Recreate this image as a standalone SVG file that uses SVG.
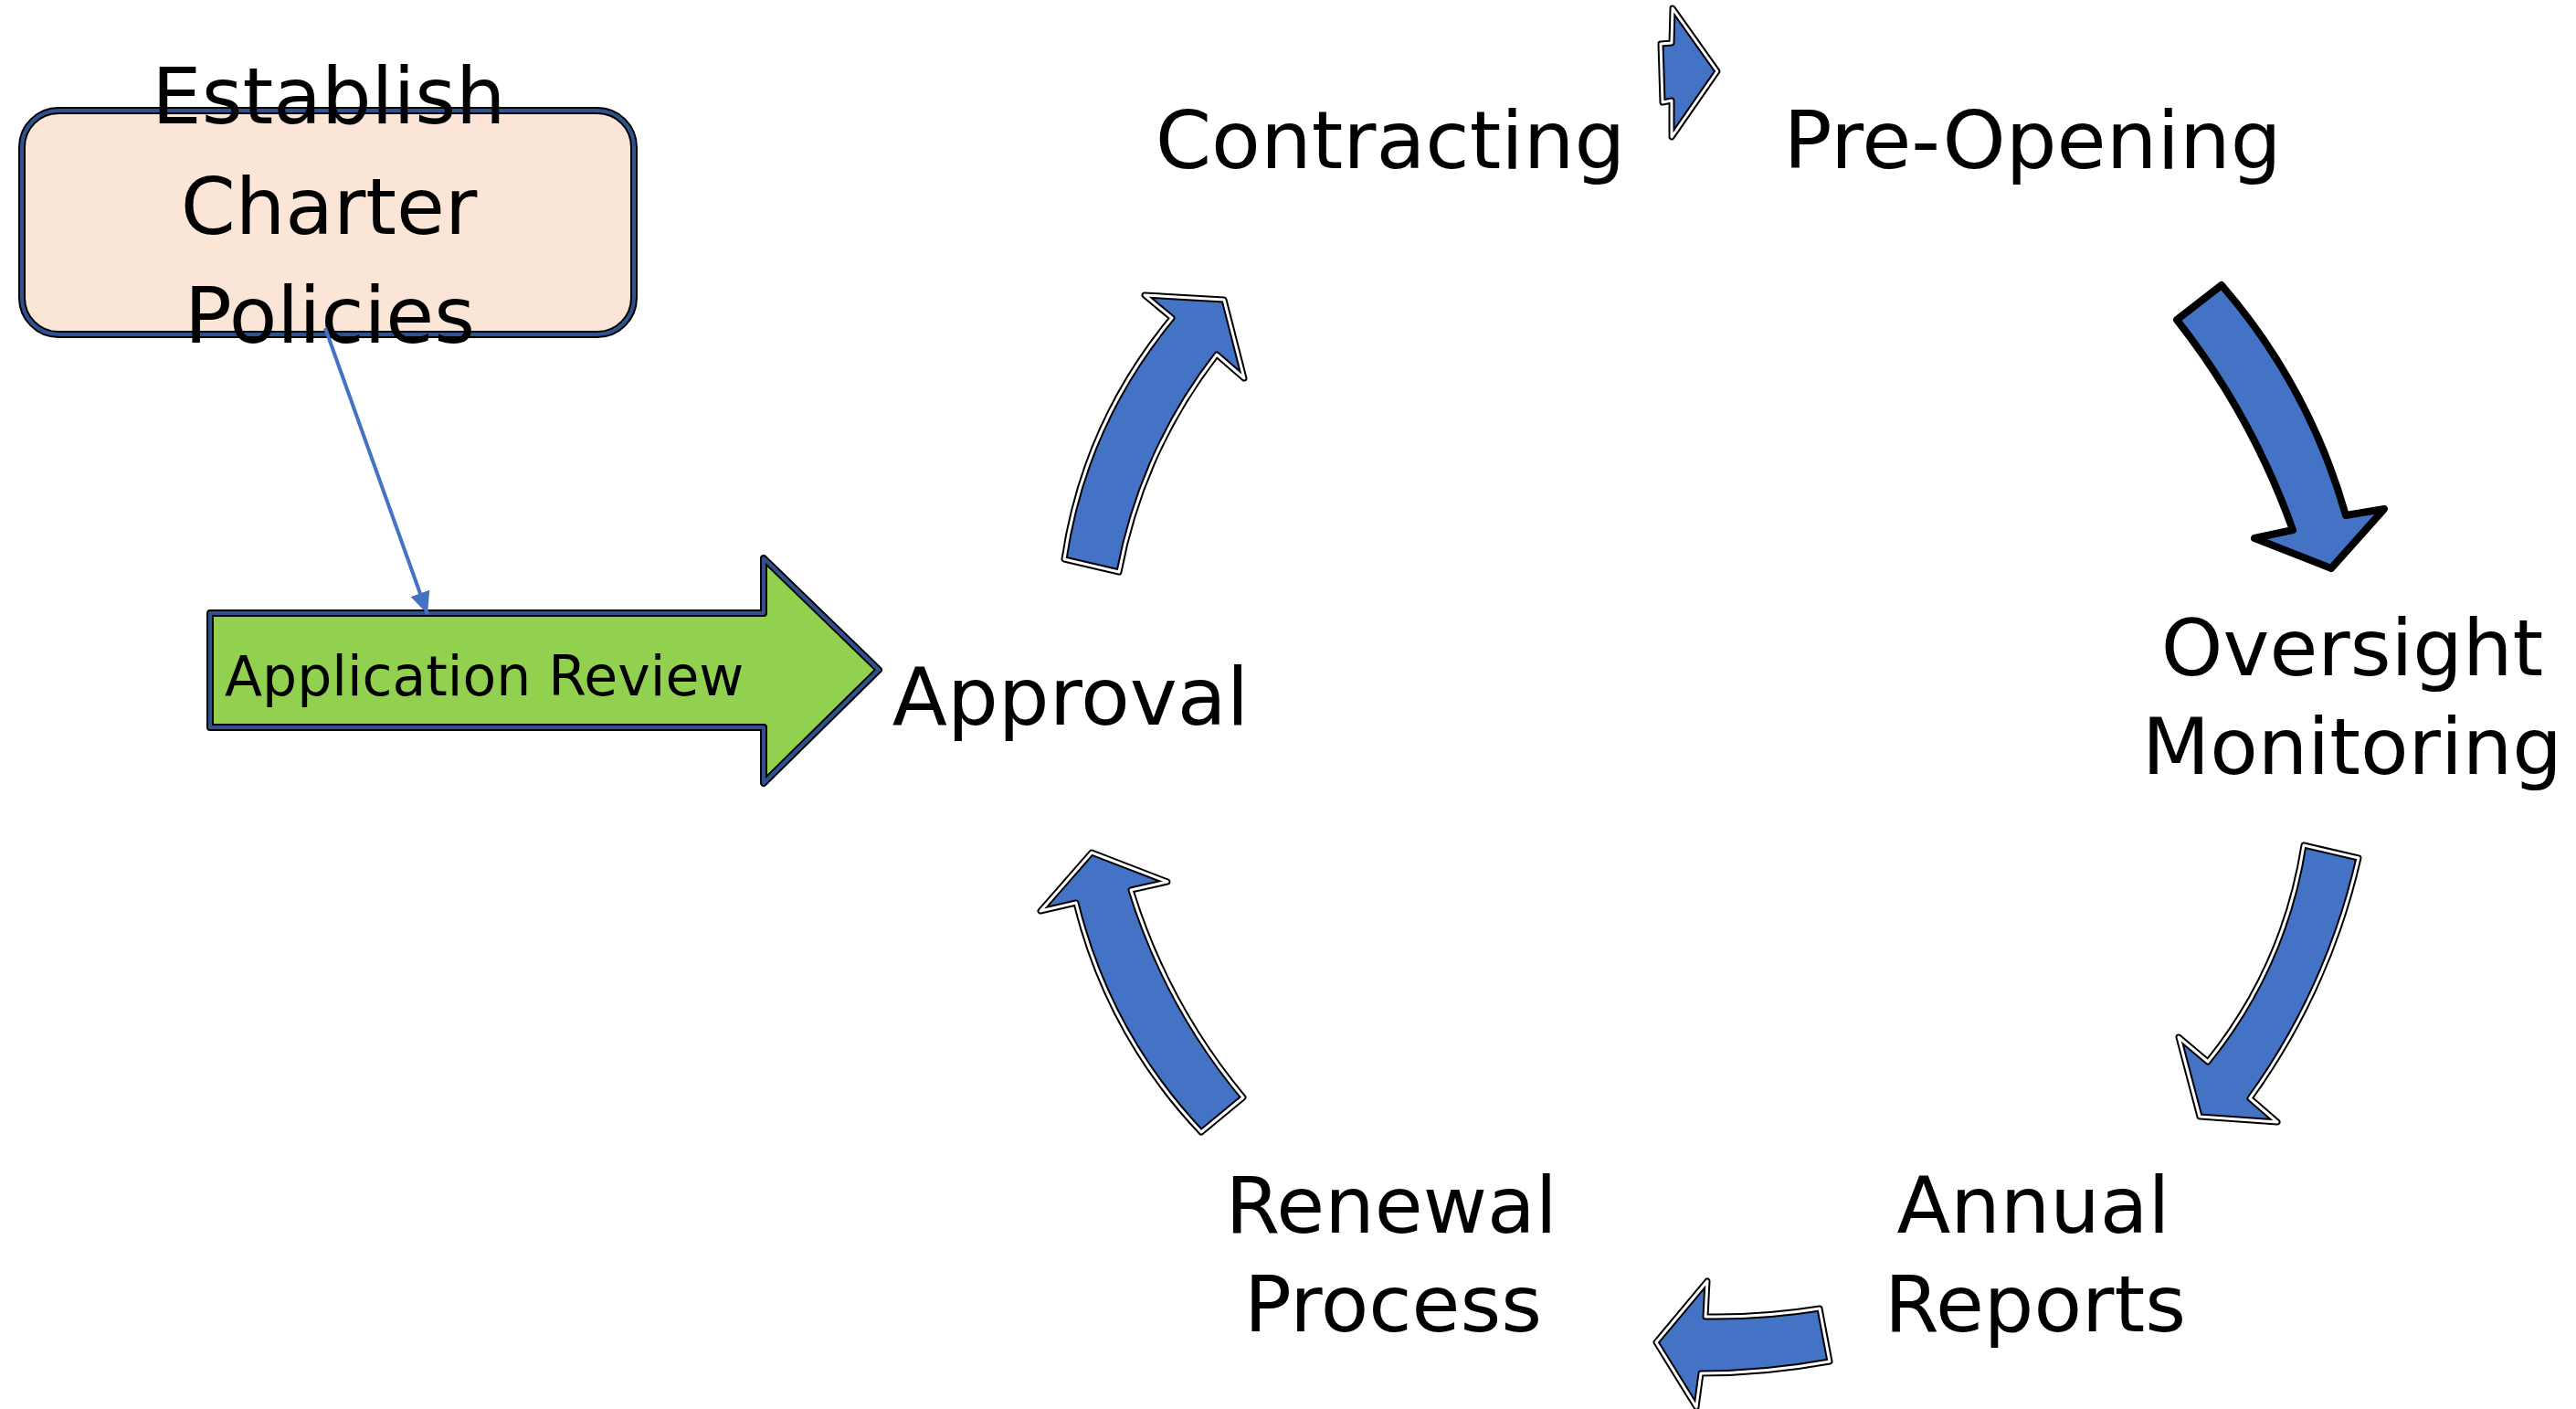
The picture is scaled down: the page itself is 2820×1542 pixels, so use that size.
<svg xmlns="http://www.w3.org/2000/svg" xmlns:xlink="http://www.w3.org/1999/xlink" width="2820" height="1542" viewBox="0 0 2820 1542">
<defs>
<style>
.lbl{font-family:"DejaVu Sans","Liberation Sans",sans-serif;font-size:86px;fill:#000;text-anchor:middle}
.big{font-size:88px}
.small{font-size:60px;text-anchor:start}
.edge-dark{fill:none;stroke:#000;stroke-width:8;stroke-linejoin:round}
.edge-blue{fill:none;stroke:#2F528F;stroke-width:4;stroke-linejoin:round}
.blk-fill{fill:#4472C4;stroke:#000;stroke-width:7;stroke-linejoin:round}
.blk-white{fill:none;stroke:#fff;stroke-width:3;stroke-linejoin:round}
.blk-solid{fill:#4472C4;stroke:#000;stroke-width:8;stroke-linejoin:round}
.thin{fill:none;stroke:#4472C4;stroke-width:4}
</style>
<marker id="tri" markerWidth="26" markerHeight="22" refX="24" refY="11" orient="auto" markerUnits="userSpaceOnUse">
<path d="M0,0 L24,11 L0,22 Z" fill="#4472C4"/>
</marker>
<path id="pA" d="M1165,612 Q1187,464 1283,348 L1253,323 L1340,328 L1362,414 L1332,388 Q1250,494 1225,626 Z"/>
<path id="pB" d="M1831,9 L1880,78 L1830,150 L1830,110 L1820,112 L1818,48 L1830,47 Z"/>
<path id="pD" d="M2522,925 L2582,939 Q2549,1083 2463,1202 L2493,1228 L2408,1222 L2385,1135 L2417,1162 Q2501,1058 2522,925 Z"/>
<path id="pE" d="M1992,1432 L2003,1490 Q1932,1503 1862,1503 L1857,1540 L1813,1469 L1869,1402 L1867,1441 Q1930,1442 1992,1432 Z"/>
<path id="pF" d="M1315,1239 L1361,1201 Q1277,1100 1238,974 L1278,965 L1195,933 L1139,997 L1178,988 Q1213,1131 1315,1239 Z"/>
<rect id="rBox" x="24" y="121" width="670" height="245" rx="40" ry="40"/>
<path id="pGreen" d="M230,671 L836,671 L836,611 L962,733 L836,857 L836,796 L230,796 Z"/>
</defs>
<rect x="0" y="0" width="2820" height="1542" fill="#fff"/>

<g id="node-establish">
<use xlink:href="#rBox" fill="#FBE5D6"/>
<use xlink:href="#rBox" class="edge-dark"/>
<use xlink:href="#rBox" class="edge-blue"/>
<text class="lbl" x="360" y="135">Establish</text>
<text class="lbl" x="360" y="256">Charter</text>
<text class="lbl" x="361" y="375">Policies</text>
</g>

<g id="node-application">
<use xlink:href="#pGreen" fill="#92D050"/>
<use xlink:href="#pGreen" class="edge-dark"/>
<use xlink:href="#pGreen" class="edge-blue"/>
<text class="lbl small" x="246" y="761">Application Review</text>
</g>

<g id="node-approval"><text class="lbl big" x="1172" y="793">Approval</text></g>
<g id="node-contracting"><text class="lbl big" x="1522" y="184">Contracting</text></g>
<g id="node-preopening"><text class="lbl big" x="2225" y="184">Pre-Opening</text></g>
<g id="node-oversight"><text class="lbl" x="2575" y="739">Oversight</text><text class="lbl" x="2575" y="847">Monitoring</text></g>
<g id="node-annual"><text class="lbl" x="2226" y="1349">Annual</text><text class="lbl" x="2228" y="1457">Reports</text></g>
<g id="node-renewal"><text class="lbl" x="1523" y="1349">Renewal</text><text class="lbl" x="1525" y="1457">Process</text></g>

<g id="connectors">
<line class="thin" x1="356" y1="359" x2="468" y2="672" marker-end="url(#tri)"/>
<use xlink:href="#pA" class="blk-fill"/><use xlink:href="#pA" class="blk-white"/>
<use xlink:href="#pB" class="blk-fill"/><use xlink:href="#pB" class="blk-white"/>
<path class="blk-solid" d="M2383,350 L2432,312 Q2528,423 2568,564 L2610,557 L2552,622 L2468,589 L2510,580 Q2465,454 2383,350 Z"/>
<use xlink:href="#pD" class="blk-fill"/><use xlink:href="#pD" class="blk-white"/>
<use xlink:href="#pE" class="blk-fill"/><use xlink:href="#pE" class="blk-white"/>
<use xlink:href="#pF" class="blk-fill"/><use xlink:href="#pF" class="blk-white"/>
</g>
</svg>
